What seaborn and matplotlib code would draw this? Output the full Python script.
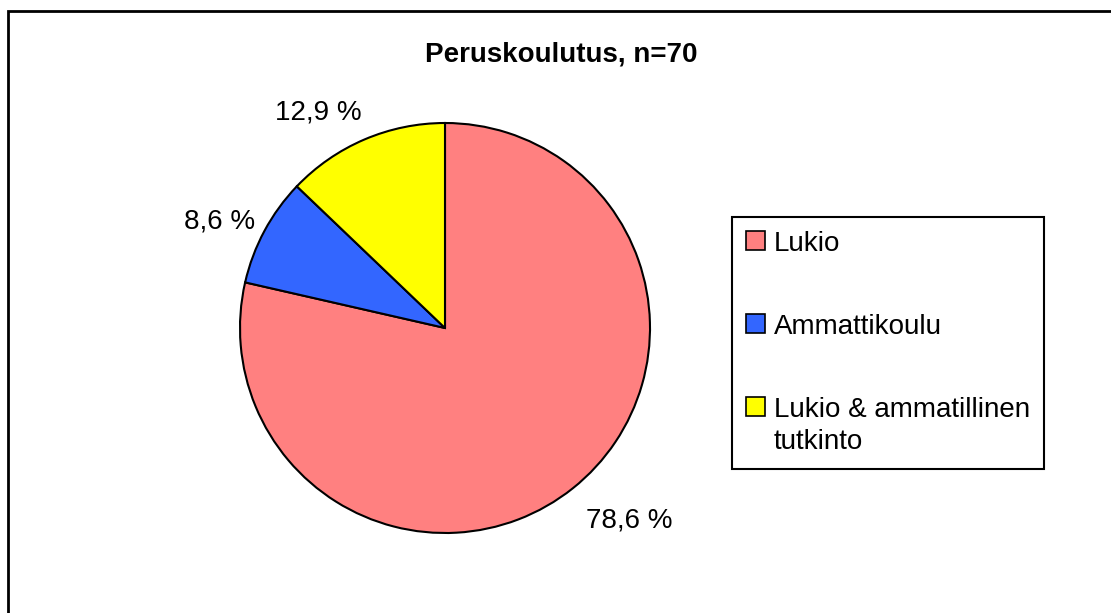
"""
Peruskoulutus pie chart
"""
import matplotlib
matplotlib.use('Agg')
import matplotlib.pyplot as plt
from matplotlib.patches import Rectangle
import seaborn as sns

sns.set_theme(style='white')
plt.rcParams['font.family'] = ['Liberation Sans', 'DejaVu Sans']

title = 'Peruskoulutus, n=70'
categories = ['Lukio', 'Ammattikoulu', 'Lukio & ammatillinen\ntutkinto']
counts = [55, 6, 9]
colors = sns.color_palette(['#FF8080', '#3366FF', '#FFFF00'])

# label offsets from pie centre (in radius units), as in the original
label_xy = [(0.90, -0.94), (-1.10, 0.52), (-0.62, 1.05)]

W, H = 1111, 613
fig = plt.figure(figsize=(W / 100, H / 100), dpi=100)
fig.patch.set_facecolor('white')

cx, cy, r = 445, 328, 205
ax = fig.add_axes([(cx - r) / W, (H - cy - r) / H, 2 * r / W, 2 * r / H])
wedges, _ = ax.pie(counts, colors=colors, startangle=90, counterclock=False,
                   radius=1, wedgeprops=dict(edgecolor='black', linewidth=1.5))
ax.set_xlim(-1, 1)
ax.set_ylim(-1, 1)
ax.set_aspect('auto')
ax.axis('off')

total = sum(counts)
for c, (x, y) in zip(counts, label_xy):
    txt = f"{100 * c / total:.1f} %".replace('.', ',')
    ax.text(x, y, txt, ha='center', va='center', fontsize=20, color='black')

fig.text(561 / W, 1 - 62 / H, title, ha='center', va='baseline',
         fontsize=20, fontweight='bold', color='black')

leg = fig.legend(wedges, categories, loc='upper left',
                 bbox_to_anchor=(732 / W, 1 - 217 / H), borderaxespad=0,
                 fontsize=20, frameon=True, fancybox=False, shadow=False,
                 framealpha=1, labelcolor='black',
                 handlelength=0.7, handleheight=0.7, handletextpad=0.3,
                 labelspacing=2.05, borderpad=0.5)
leg.get_frame().set_edgecolor('black')
leg.get_frame().set_linewidth(1.5)
for h in leg.legend_handles:
    h.set_edgecolor('black')
    h.set_linewidth(1.2)
for t in leg.get_texts():
    t.set_linespacing(1.3)
# put the marker next to the first line of a wrapped label, like Excel does
for col in leg._legend_handle_box.get_children():
    for row in col.get_children():
        row.align = 'top'

# outer chart border (left and top visible)
fig.add_artist(Rectangle((8 / W, -0.1), 1.2, 1.1 - 11 / H,
                         transform=fig.transFigure, fill=False,
                         edgecolor='black', linewidth=2))

fig.savefig('out.png', dpi=100, facecolor='white')
